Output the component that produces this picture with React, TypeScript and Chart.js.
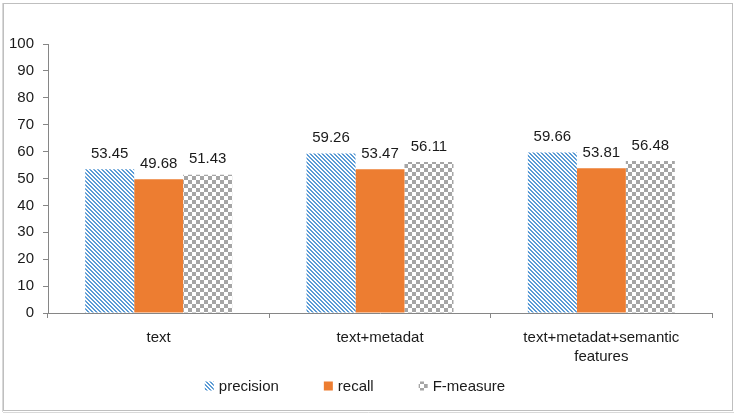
import React, { useEffect, useRef } from "react";
import { Chart, registerables } from "chart.js";

Chart.register(...registerables);

const categories: (string | string[])[] = ["text", "text+metadat", ["text+metadat+semantic", "features"]];
const seriesNames = ["precision", "recall", "F-measure"];
const precision = [53.45, 59.26, 59.66];
const recall = [49.68, 53.47, 53.81];
const fmeasure = [51.43, 56.11, 56.48];
const yTicks = [0, 10, 20, 30, 40, 50, 60, 70, 80, 90, 100];

const FONT = "'Liberation Sans', Arial, sans-serif";
const TEXT = "#1a1a1a";
const AXIS = "#868686";

function stripePattern(): CanvasPattern | string {
  const c = document.createElement("canvas");
  c.width = 4;
  c.height = 4;
  const g = c.getContext("2d");
  if (!g) return "#5B9BD5";
  g.fillStyle = "#ffffff";
  g.fillRect(0, 0, 4, 4);
  g.fillStyle = "#5B9BD5";
  for (let y = 0; y < 4; y++) {
    for (let x = 0; x < 4; x++) {
      const d = (((x - y) % 4) + 4) % 4;
      if (d === 0 || d === 1) g.fillRect(x, y, 1, 1);
    }
  }
  const p = g.createPattern(c, "repeat");
  return p || "#5B9BD5";
}

function checkerPattern(): CanvasPattern | string {
  const c = document.createElement("canvas");
  c.width = 8;
  c.height = 8;
  const g = c.getContext("2d");
  if (!g) return "#A5A5A5";
  g.fillStyle = "#ffffff";
  g.fillRect(0, 0, 8, 8);
  g.fillStyle = "#A5A5A5";
  g.fillRect(0, 0, 4, 4);
  g.fillRect(4, 4, 4, 4);
  const p = g.createPattern(c, "repeat");
  return p || "#A5A5A5";
}

const framePlugin = {
  id: "frame",
  beforeDraw(chart: any) {
    const ctx = chart.ctx;
    ctx.save();
    ctx.fillStyle = "#ffffff";
    ctx.fillRect(0, 0, chart.width, chart.height);
    ctx.strokeStyle = "#BFBFBF";
    ctx.lineWidth = 1;
    ctx.strokeRect(3.5, 3.5, 729, 407);
    ctx.strokeStyle = "#D9D9D9";
    ctx.beginPath();
    ctx.moveTo(2.5, 3);
    ctx.lineTo(2.5, 412);
    ctx.moveTo(3, 412.5);
    ctx.lineTo(734, 412.5);
    ctx.stroke();
    ctx.restore();
  },
};

const labelPlugin = {
  id: "valueLabels",
  afterDatasetsDraw(chart: any) {
    const ctx = chart.ctx;
    ctx.save();
    ctx.font = `15px ${FONT}`;
    ctx.fillStyle = TEXT;
    ctx.textAlign = "center";
    ctx.textBaseline = "bottom";
    chart.data.datasets.forEach((ds: any, i: number) => {
      const meta = chart.getDatasetMeta(i);
      meta.data.forEach((el: any, j: number) => {
        ctx.fillText(Number(ds.data[j]).toFixed(2), el.x, el.y - 8);
      });
    });
    ctx.restore();
  },
};

const legendPlugin = {
  id: "customLegend",
  afterDraw(chart: any) {
    const ctx = chart.ctx;
    ctx.save();
    ctx.font = `15px ${FONT}`;
    ctx.textBaseline = "middle";
    ctx.textAlign = "left";
    const box = 9;
    const gap = 5;
    const spacing = 45;
    const ds = chart.data.datasets;
    const widths = ds.map((d: any) => box + gap + ctx.measureText(d.label).width);
    const total = widths.reduce((a: number, b: number) => a + b, 0) + spacing * (ds.length - 1);
    let x = 355 - total / 2;
    const cy = 386;
    ds.forEach((d: any, i: number) => {
      ctx.fillStyle = d.backgroundColor;
      ctx.fillRect(x, cy - box / 2, box, box);
      ctx.fillStyle = TEXT;
      ctx.fillText(d.label, x + box + gap, cy + 1);
      x += widths[i] + spacing;
    });
    ctx.restore();
  },
};

export default function App() {
  const ref = useRef<HTMLCanvasElement | null>(null);

  useEffect(() => {
    if (!ref.current) return;
    const stripes = stripePattern();
    const checker = checkerPattern();
    const chart = new Chart(ref.current, {
      type: "bar",
      data: {
        labels: categories,
        datasets: [
          { label: seriesNames[0], data: precision, backgroundColor: stripes as any, borderWidth: 0 },
          { label: seriesNames[1], data: recall, backgroundColor: "#ED7D31", borderWidth: 0 },
          { label: seriesNames[2], data: fmeasure, backgroundColor: checker as any, borderWidth: 0 },
        ],
      },
      options: {
        animation: false,
        responsive: true,
        maintainAspectRatio: false,
        layout: { padding: { left: 0, top: 44, right: 25, bottom: 46 } },
        datasets: { bar: { categoryPercentage: 0.664, barPercentage: 1 } },
        plugins: {
          legend: { display: false },
          tooltip: { enabled: false },
        },
        scales: {
          x: {
            grid: { display: true, drawOnChartArea: false, drawTicks: true, tickLength: 5, color: AXIS, offset: true },
            border: { display: true, color: AXIS },
            ticks: { color: TEXT, font: { family: FONT, size: 15, lineHeight: 1.3 }, padding: 10, maxRotation: 0, autoSkip: false },
            afterFit(scale: any) {
              scale.height = 56;
            },
          },
          y: {
            min: 0,
            max: 100,
            afterBuildTicks(scale: any) {
              scale.ticks = yTicks.map((v) => ({ value: v }));
            },
            grid: { display: true, drawOnChartArea: false, drawTicks: true, tickLength: 5, color: AXIS },
            border: { display: true, color: AXIS },
            ticks: { color: TEXT, font: { family: FONT, size: 15 }, padding: 9 },
            afterFit(scale: any) {
              scale.width = 48;
            },
          },
        },
      },
      plugins: [framePlugin, labelPlugin, legendPlugin],
    });
    return () => chart.destroy();
  }, []);

  return (
    <div style={{ position: "fixed", left: 0, top: 0, width: 737, height: 415 }}>
      <canvas ref={ref} />
    </div>
  );
}
